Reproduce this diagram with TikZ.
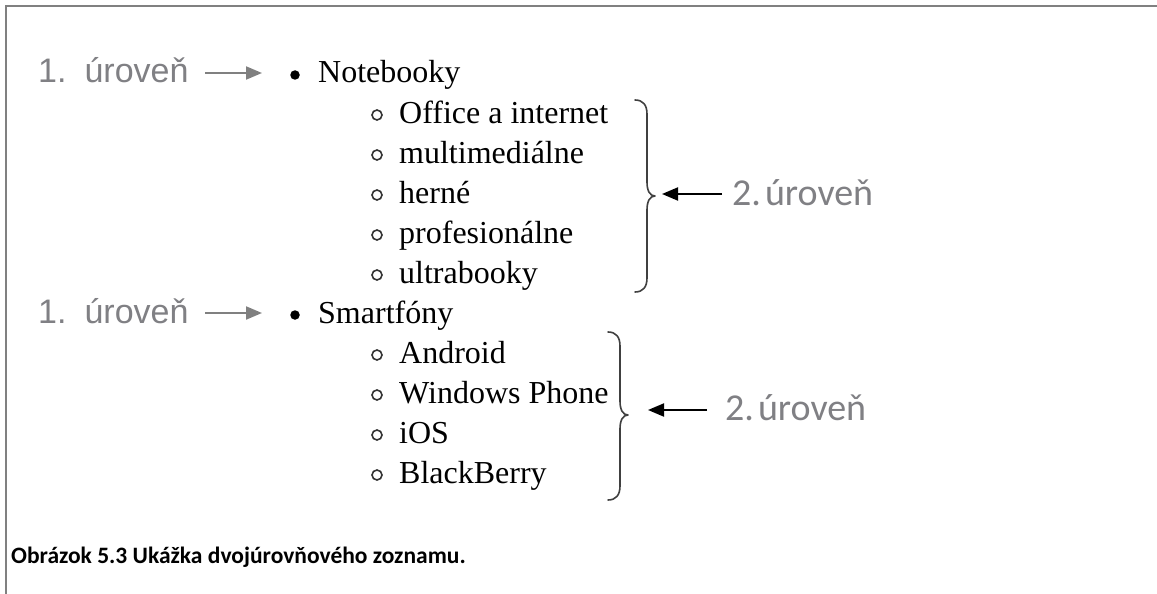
\documentclass[tikz,border=0pt]{standalone}
\usepackage{fontspec}
\setmainfont{Liberation Serif}
\newfontfamily\arialf{Liberation Sans}
\newfontfamily\calib{Carlito}
\usetikzlibrary{arrows.meta}
\definecolor{framegray}{RGB}{128,128,128}
\definecolor{lblgray}{RGB}{128,128,132}
\definecolor{bracegray}{RGB}{64,64,64}
\begin{document}
\begin{tikzpicture}[x=1pt,y=-1pt,
  txt/.style={anchor=base west,inner sep=0pt,font=\fontsize{32}{40}\selectfont},
  lvlone/.style={anchor=base west,inner sep=0pt,text=lblgray,font=\arialf\fontsize{34}{40}\selectfont},
  lvltwo/.style={anchor=base west,inner sep=0pt,text=lblgray,font=\calib\fontsize{38}{44}\selectfont},
  capt/.style={anchor=base west,inner sep=0pt,font=\calib\bfseries\fontsize{23.5}{28}\selectfont},
  disc/.style={circle,fill=black,inner sep=0pt,minimum size=9.5pt},
  ring/.style={circle,draw=black!80,line width=1.6pt,inner sep=0pt,minimum size=10pt},
  grayarrow/.style={draw=framegray,line width=2pt,-{Triangle[length=16pt,width=13pt]}},
  blackarrow/.style={draw=black,line width=2pt,-{Triangle[length=16pt,width=13pt]}},
  bracestyle/.style={draw=bracegray,line width=1.6pt,line cap=round,line join=round},
  framestyle/.style={draw=framegray,line width=2pt}]
\useasboundingbox[fill=white] (0,0) rectangle (1157,594);
% frame
\coordinate (fr1) at (6,594);
\coordinate (fr2) at (6,6);
\coordinate (fr3) at (1157,6);
\draw[framestyle] (fr1) -- (fr2) -- (fr3);

% first group
\node[lvlone] (l1a) at (38,83) {1.\hspace{18pt}úroveň};
\coordinate (a1s) at (205,73);
\coordinate (a1e) at (262,73);
\draw[grayarrow] (a1s) -- (a1e);
\node[disc] (b1) at (295,75) {};
\node[txt] (t1) at (318,83) {Notebooky};

\foreach \i/\t in {0/Office a internet,1/multimediálne,2/herné,3/profesionálne,4/ultrabooky}{
  \node[ring] (r1\i) at (377,{115+40*\i}) {};
  \node[txt] (s1\i) at (399,{123+40*\i}) {\t};
}

\coordinate (br1top) at (635,100);
\coordinate (br1tip) at (655,196);
\coordinate (br1bot) at (635,292);
\draw[bracestyle] (br1top) .. controls (643,100) and (647,105) .. (647,114)
  -- (647,182) .. controls (647,191) and (650,196) .. (br1tip)
  .. controls (650,196) and (647,201) .. (647,210)
  -- (647,278) .. controls (647,287) and (643,292) .. (br1bot);

\coordinate (a2s) at (722,194);
\coordinate (a2e) at (662,194);
\draw[blackarrow] (a2s) -- (a2e);
\node[lvltwo] (l2a) at (732,205) {2.\hspace{4pt}úroveň};

% second group
\node[lvlone] (l1b) at (38,323) {1.\hspace{18pt}úroveň};
\coordinate (a3s) at (205,313);
\coordinate (a3e) at (262,313);
\draw[grayarrow] (a3s) -- (a3e);
\node[disc] (b2) at (295,315) {};
\node[txt] (t2) at (318,323) {Smartfóny};

\foreach \i/\t in {0/Android,1/Windows Phone,2/iOS,3/BlackBerry}{
  \node[ring] (r2\i) at (377,{355+40*\i}) {};
  \node[txt] (s2\i) at (399,{363+40*\i}) {\t};
}

\coordinate (br2top) at (608,332);
\coordinate (br2tip) at (628,415);
\coordinate (br2bot) at (608,500);
\draw[bracestyle] (br2top) .. controls (616,332) and (620,337) .. (620,346)
  -- (620,401) .. controls (620,410) and (623,415) .. (br2tip)
  .. controls (623,415) and (620,420) .. (620,429)
  -- (620,486) .. controls (620,495) and (616,500) .. (br2bot);

\coordinate (a4s) at (707,410);
\coordinate (a4e) at (648,410);
\draw[blackarrow] (a4s) -- (a4e);
\node[lvltwo] (l2b) at (725,420) {2.\hspace{4pt}úroveň};

% caption
\node[capt] (cap) at (11,563) {Obrázok 5.3 Ukážka dvojúrovňového zoznamu.};
\end{tikzpicture}
\end{document}
